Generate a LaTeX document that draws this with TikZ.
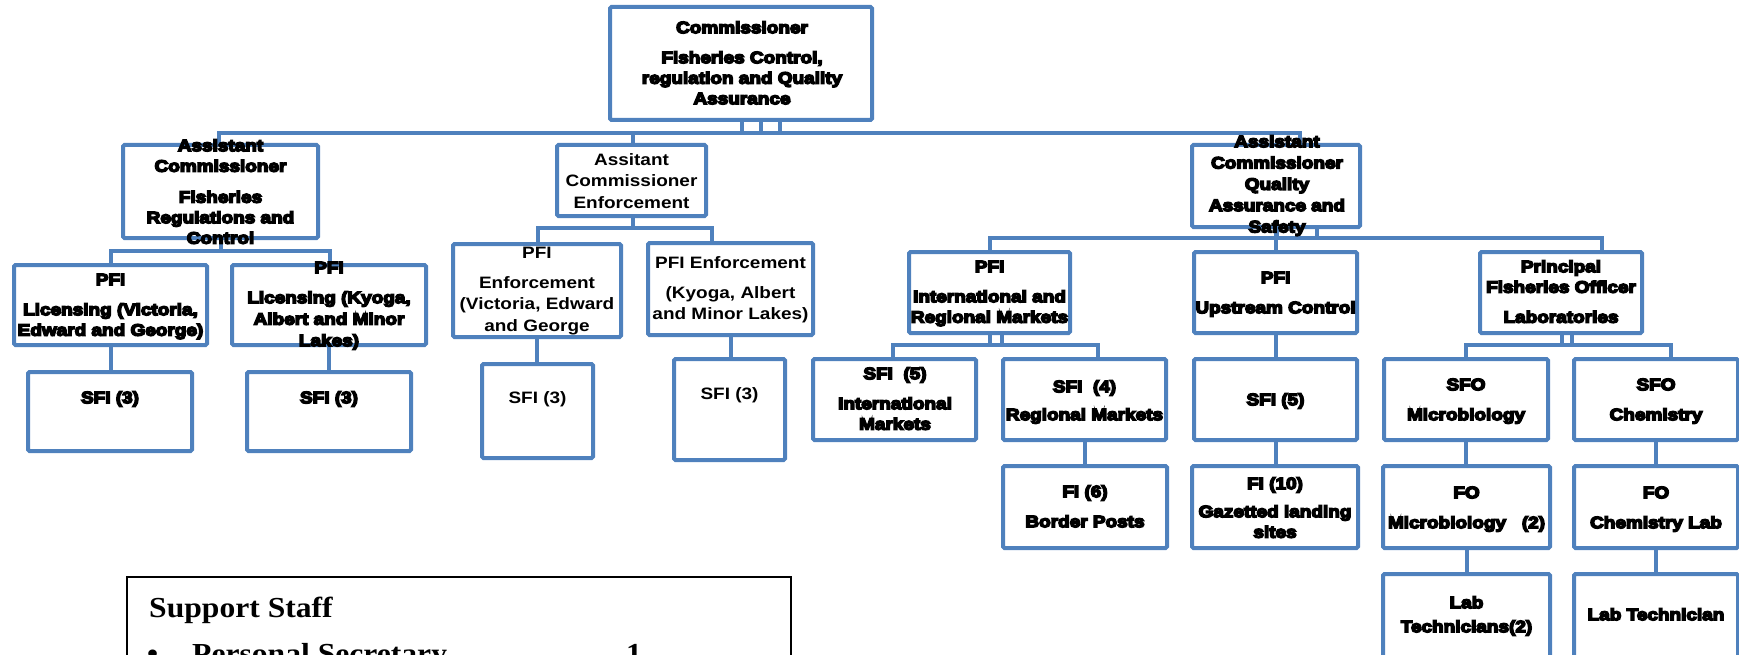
\documentclass[tikz,border=0pt]{standalone}
\usepackage{fontspec}
\usetikzlibrary{calc}
\newfontfamily\boxfont{Liberation Sans}[UprightFont=* Bold, FakeStretch=1.15]
\newfontfamily\heavyfont{Liberation Sans}[UprightFont=* Bold, FakeStretch=1.15, RawFeature={embolden=9}]
\newfontfamily\stafffont{Liberation Serif}[UprightFont=* Bold, FakeStretch=1.09]
\definecolor{boxblue}{RGB}{79,129,189}
\tikzset{
  orgbox/.style={rectangle, draw=boxblue, line width=4pt, rounded corners=1.5pt, inner sep=0pt},
  conn/.style={draw=boxblue, line width=4pt},
  lbl/.style={anchor=north, inner sep=0pt, align=center, font=\boxfont\fontsize{16.5}{20.5}\selectfont},
  hlbl/.style={lbl, font=\heavyfont\fontsize{16.5}{20.5}\selectfont},
  stafftxt/.style={anchor=base west, inner sep=0pt, font=\stafffont\fontsize{29}{34}\selectfont},
}
% box from outer edges: name, x1, y1, x2, y2 (pixel grid, y downwards)
\newcommand\obox[5]{\node[orgbox, minimum width={#4-#2-4}, minimum height={#5-#3-4}] (#1) at ({(#2+#4)/2},{(#3+#5)/2}) {};}
\newcommand\fst{\rule{0pt}{14pt}}
\begin{document}
\begin{tikzpicture}[x=1pt, y=-1pt]
\useasboundingbox (0,0) rectangle (1739,655);
\clip (0,0) rectangle (1739,655);

% ---- boxes
\obox{com}{608}{5}{874}{122}
\obox{ac1}{121}{143}{320}{240}
\obox{ac2}{555}{143}{708}{218}
\obox{ac3}{1190}{143}{1362}{229}
\obox{pfi1}{12}{263}{209}{347}
\obox{pfi2}{230}{263}{428}{347}
\obox{pfi3}{451}{242}{623}{339}
\obox{pfi4}{646}{241}{815}{337}
\obox{sfi1}{26}{370}{194}{453}
\obox{sfi2}{245}{370}{413}{453}
\obox{sfi3}{480}{362}{595}{460}
\obox{sfi4}{672}{357}{787}{462}
\obox{pfi5}{907}{250}{1072}{335}
\obox{pfi6}{1192}{250}{1359}{335}
\obox{pfi7}{1478}{250}{1644}{335}
\obox{sfi5}{811}{357}{978}{442}
\obox{sfi6}{1001}{357}{1168}{442}
\obox{sfi7}{1192}{357}{1359}{442}
\obox{sfom}{1382}{357}{1550}{442}
\obox{sfoc}{1572}{357}{1740}{442}
\obox{fi6}{1001}{464}{1169}{550}
\obox{fi10}{1190}{464}{1360}{550}
\obox{fom}{1381}{464}{1552}{550}
\obox{foc}{1572}{464}{1740}{550}
\obox{labm}{1381}{572}{1552}{680}
\obox{labc}{1572}{572}{1740}{680}

% ---- connectors (elbows share one continuous horizontal run)
\draw[conn] ($(com.south)+(39,0)$) |- ($(ac1.north)+(-1.5,-10)$) -- ($(ac1.north)+(-1.5,0)$);
\draw[conn] ($(com.south)+(20,0)$) |- ($(ac2.north)+(1.5,-10)$) -- ($(ac2.north)+(1.5,0)$);
\draw[conn] ($(com.south)+(1,0)$) |- ($(ac3.north)+(24,-10)$) -- ($(ac3.north)+(24,0)$);

\draw[conn] (ac1.south) |- ($(pfi1.north)+(0,-12)$) -- (pfi1.north);
\draw[conn] (ac1.south) |- ($(pfi2.north)+(1,-12)$) -- ($(pfi2.north)+(1,0)$);
\draw[conn] ($(ac2.south)+(1.5,0)$) |- ($(pfi3.north)+(1,-14)$) -- ($(pfi3.north)+(1,0)$);
\draw[conn] ($(ac2.south)+(1.5,0)$) |- ($(pfi4.north)+(-18.5,-13)$) -- ($(pfi4.north)+(-18.5,0)$);

\draw[conn] ($(ac3.south)+(41,0)$) |- ($(pfi5.north)+(0,-12)$) -- (pfi5.north);
\draw[conn] (ac3.south) -- (ac3.south |- pfi6.north);
\draw[conn] ($(ac3.south)+(1,0)$) |- ($(pfi7.north)+(41,-12)$) -- ($(pfi7.north)+(41,0)$);

\draw[conn] (pfi1.south) -- (pfi1.south |- sfi1.north);
\draw[conn] (pfi2.south) -- (pfi2.south |- sfi2.north);
\draw[conn] (pfi3.south) -- (pfi3.south |- sfi3.north);
\draw[conn] (pfi4.south) -- (pfi4.south |- sfi4.north);

\draw[conn] ($(pfi5.south)+(12.5,0)$) |- ($(sfi5.north)+(-1.5,-12)$) -- ($(sfi5.north)+(-1.5,0)$);
\draw[conn] ($(pfi5.south)+(0.5,0)$) |- ($(sfi6.north)+(13.5,-12)$) -- ($(sfi6.north)+(13.5,0)$);
\draw[conn] (pfi6.south) -- (pfi6.south |- sfi7.north);
\draw[conn] ($(pfi7.south)+(11,0)$) |- ($(sfom.north)+(0,-12)$) -- (sfom.north);
\draw[conn] ($(pfi7.south)+(1,0)$) |- ($(sfoc.north)+(15,-12)$) -- ($(sfoc.north)+(15,0)$);

\draw[conn] (sfi6.south) -- (sfi6.south |- fi6.north);
\draw[conn] (sfi7.south) -- (sfi7.south |- fi10.north);
\draw[conn] (sfom.south) -- (sfom.south |- fom.north);
\draw[conn] (sfoc.south) -- (sfoc.south |- foc.north);
\draw[conn] (fom.south) -- (fom.south |- labm.north);
\draw[conn] (foc.south) -- (foc.south |- labc.north);

% ---- labels (y of each = first baseline - 14)
\node[hlbl] (t-com) at (742,33-14) {\fst Commissioner\\[9.5pt] Fisheries Control,\\ regulation and Quality\\ Assurance};
\node[hlbl] (t-ac1) at (220.5,151-14) {\fst Assistant\\ Commissioner\\[10.5pt] Fisheries\\ Regulations and\\ Control};
\node[lbl] (t-ac2) at (631.5,165-14) {\fst Assitant\\[1pt] Commissioner\\[1pt] Enforcement};
\node[hlbl] (t-ac3) at (1277,147-14) {\fst Assistant\\[0.8pt] Commissioner\\[0.8pt] Quality\\[0.8pt] Assurance and\\[0.8pt] Safety};

\node[hlbl] (t-pfi1) at (110.5,285-14) {\fst PFI\\[9.5pt] Licensing (Victoria,\\ Edward and George)};
\node[hlbl] (t-pfi2) at (329,273-14) {\fst PFI\\[9.5pt] Licensing (Kyoga,\\[1pt] Albert and Minor\\[1pt] Lakes)};
\node[lbl] (t-pfi3) at (537,258-14) {\fst PFI\\[9.5pt] Enforcement\\[1pt] (Victoria, Edward\\[1pt] and George};
\node[lbl] (t-pfi4) at (730.5,268-14) {\fst PFI Enforcement\\[9.5pt] (Kyoga, Albert\\[1pt] and Minor Lakes)};

\node[hlbl] (t-sfi1) at (110,403-14) {\fst SFI (3)};
\node[hlbl] (t-sfi2) at (329,403-14) {\fst SFI (3)};
\node[lbl] (t-sfi3) at (537.5,403-14) {\fst SFI (3)};
\node[lbl] (t-sfi4) at (729.5,399-14) {\fst SFI (3)};

\node[hlbl] (t-pfi5) at (989.5,272-14) {\fst PFI\\[9.5pt] International and\\ Regional Markets};
\node[hlbl] (t-pfi6) at (1275.5,283-14) {\fst PFI\\[9.5pt] Upstream Control};
\node[hlbl] (t-pfi7) at (1561,272-14) {\fst Principal\\ Fisheries Officer\\[9.5pt] Laboratories};

\node[hlbl] (t-sfi5) at (895,379-14) {\fst SFI~~(5)\\[9.5pt] International\\ Markets};
\node[hlbl] (t-sfi6) at (1084.5,392-14) {\fst SFI~~(4)\\[7.5pt] Regional Markets};
\node[hlbl] (t-sfi7) at (1275.5,405-14) {\fst SFI (5)};
\node[hlbl] (t-sfom) at (1466,390-14) {\fst SFO\\[9.5pt] Microbiology};
\node[hlbl] (t-sfoc) at (1656,390-14) {\fst SFO\\[9.5pt] Chemistry};

\node[hlbl] (t-fi6) at (1085,497-14) {\fst FI (6)\\[9.5pt] Border Posts};
\node[hlbl] (t-fi10) at (1275,489-14) {\fst FI (10)\\[7.5pt] Gazetted landing\\ sites};
\node[hlbl] (t-fom) at (1466.5,498-14) {\fst FO\\[9.5pt] Microbiology~~~(2)};
\node[hlbl] (t-foc) at (1656,498-14) {\fst FO\\[9.5pt] Chemistry Lab};
\node[hlbl] (t-labm) at (1466.5,608-14) {\fst Lab\\[3.5pt] Technicians(2)};
\node[hlbl] (t-labc) at (1656,620-14) {\fst Lab Technician};

% ---- support staff panel
\node[rectangle, draw=black, line width=1.5pt, inner sep=0pt, minimum width=664, minimum height=140] (staff) at (459,647) {};
\node[stafftxt] (t-staff) at (149,617) {Support Staff};
\node[stafftxt] (t-bullet) at (147,663) {\textbullet};
\node[stafftxt] (t-sec) at (192,663) {Personal Secretary};
\node[stafftxt] (t-secn) at (626,663) {1};
\end{tikzpicture}
\end{document}
